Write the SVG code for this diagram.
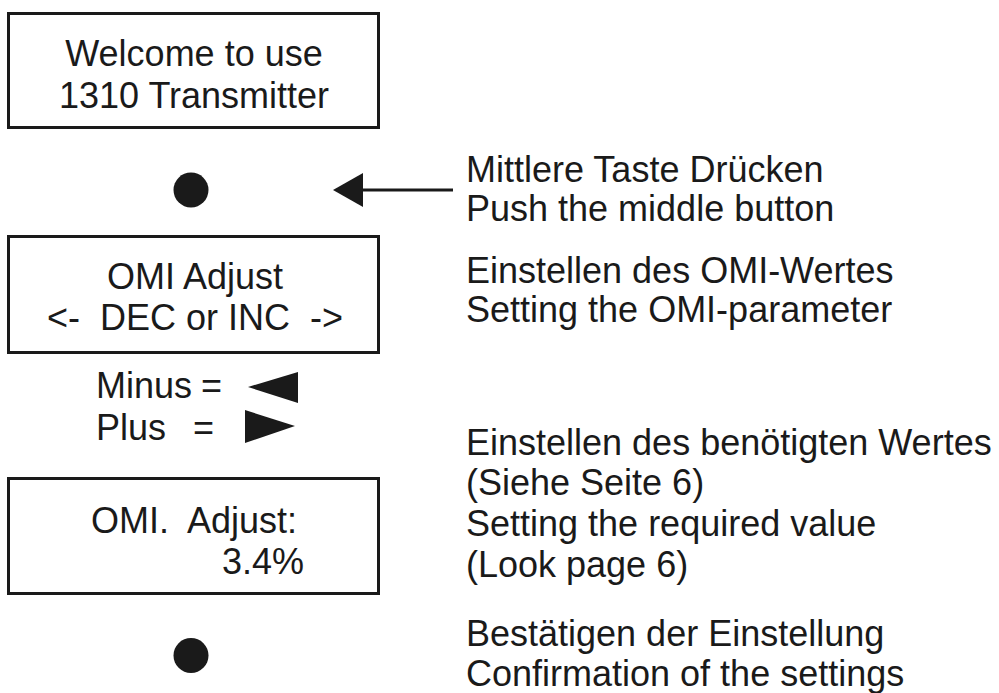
<svg xmlns="http://www.w3.org/2000/svg" width="999" height="693" viewBox="0 0 999 693">
<style>
.box{fill:#fff;stroke:#1a1a1a;stroke-width:3}
text{font-family:"Liberation Sans",Arial,sans-serif;font-size:36px;fill:#1a1a1a;white-space:pre}
.c{text-anchor:middle}
.r{text-anchor:end}
.dot{fill:#1a1a1a}
</style>
<rect width="999" height="693" fill="#fff"/>
<g id="welcome">
<rect class="box" x="8.5" y="13.5" width="370" height="114"/>
<text class="c" x="194" y="66">Welcome to use</text>
<text class="c" x="194" y="108">1310 Transmitter</text>
</g>
<g id="button1"><circle class="dot" cx="191" cy="190" r="17.5"/></g>
<g id="omi-adjust">
<rect class="box" x="8.5" y="236.5" width="370" height="116"/>
<text class="c" x="195" y="289">OMI Adjust</text>
<text class="c" x="195" y="330">&lt;-  DEC or INC  -&gt;</text>
</g>
<g id="minus-plus">
<text x="96" y="398">Minus</text>
<text x="201" y="398">=</text>
<polygon class="dot" points="248,387 298,372 298,403"/>
<text x="96" y="440">Plus</text>
<text x="193" y="440">=</text>
<polygon class="dot" points="245,410 245,443 295,426"/>
</g>
<g id="omi-value">
<rect class="box" x="8.5" y="478.5" width="370" height="115"/>
<text x="91" y="533">OMI.  Adjust:</text>
<text class="r" x="304" y="574">3.4%</text>
</g>
<g id="button2"><circle class="dot" cx="191" cy="655.5" r="17.5"/></g>
<g id="connectors">
<line x1="360" y1="190" x2="453" y2="190" stroke="#1a1a1a" stroke-width="3"/>
<polygon class="dot" points="333,190 363,173 363,207"/>
</g>
<g id="notes">
<text x="466" y="182">Mittlere Taste Drücken</text>
<text x="466" y="221">Push the middle button</text>
<text x="466" y="283">Einstellen des OMI-Wertes</text>
<text x="466" y="322">Setting the OMI-parameter</text>
<text x="466" y="455">Einstellen des benötigten Wertes</text>
<text x="466" y="495">(Siehe Seite 6)</text>
<text x="466" y="536">Setting the required value</text>
<text x="466" y="577">(Look page 6)</text>
<text x="466" y="646">Bestätigen der Einstellung</text>
<text x="466" y="686">Confirmation of the settings</text>
</g>
</svg>
